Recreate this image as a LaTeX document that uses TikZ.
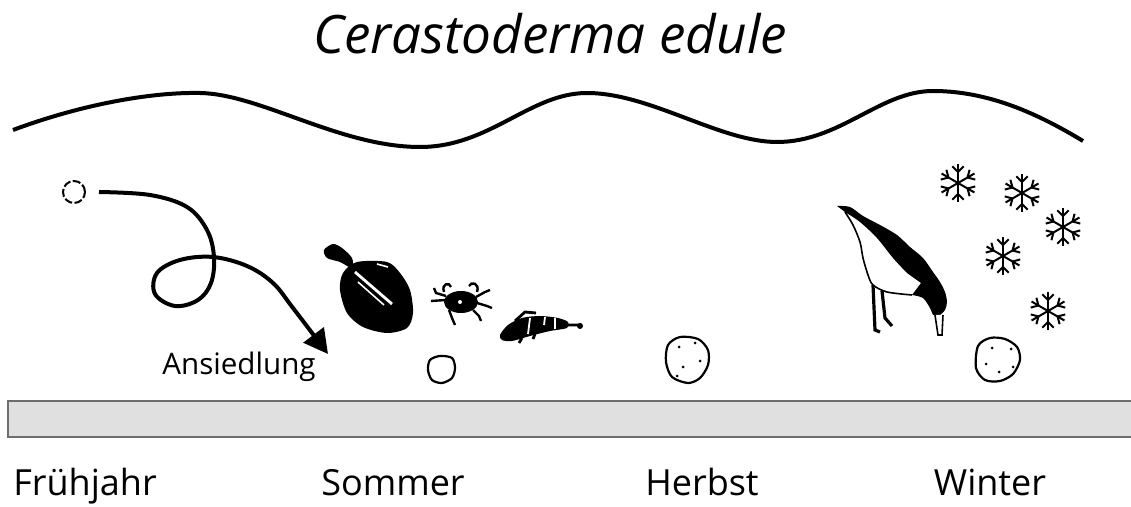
\documentclass[tikz,border=0pt]{standalone}
\usepackage{fontspec}
\setmainfont{Open Sans}
\usetikzlibrary{calc,arrows.meta}
\tikzset {>=Stealth}
\tikzset{
  season/.style={font=\fontsize{18}{20}\selectfont,anchor=base},
  shell/.style={line width=1.1pt,fill=white},
  spat/.style={circle,draw,line width=1pt,dash pattern=on 4pt off 1.2pt,minimum size=11pt,inner sep=0pt},
  drift/.style={line width=2pt,-{Triangle[length=12pt,width=12.5pt]}},
  flake/.pic={
    \foreach \a in {30,90,...,330} {
      \draw (0,0) -- (\a:19);
      \draw (\a:11) -- ++(\a+45:8);
      \draw (\a:11) -- ++(\a-45:8);
    }
  }
}

\begin{document}
\begin{tikzpicture}[x=0.5pt,y=-0.5pt]
\useasboundingbox (0,0) rectangle (1131,507);

\node[font=\fontsize{26.5}{30}\selectfont\itshape,anchor=base] (title) at (550,54) {Cerastoderma edule};

% water surface
\draw[line width=2pt] (13,130) .. controls (80,105) and (150,92) .. (200,93)
  .. controls (260,94) and (340,147) .. (420,147)
  .. controls (490,147) and (530,93) .. (587,93)
  .. controls (650,93) and (720,142) .. (777,142)
  .. controls (840,142) and (880,91) .. (933,91)
  .. controls (990,91) and (1040,115) .. (1083,141);

% sediment
\draw[line width=1pt,draw=black!57,fill=black!12] (8,401) rectangle (1140,437);

\foreach \x/\name/\s in {85/spring/Frühjahr,393/summer/Sommer,702/autumn/Herbst,990/winter/Winter} {
  \node[season] (\name) at (\x,496) {\s};
}

% larva drifting down
\node[spat] (larva) at (74,192) {};
\coordinate (drift) at ($(larva.east)+(13,0)$);
\coordinate (settle) at (328,354);
\draw[drift] plot[smooth,tension=0.6] coordinates {(drift) (150,195) (187,207) (207,230)
  (214,257) (211,283) (198,300) (175,306) (155,294) (157,273) (180,260) (213,257)
  (247,266) (273,283) (293,308) (settle)};
\node[font=\fontsize{14.8}{16}\selectfont,anchor=base] (settling) at (239,375) {Ansiedlung};

% cockles growing
\draw[shell] plot[smooth cycle] coordinates {(430,360) (440,356) (452,358) (455,368) (452,378) (442,383) (432,380) (428,370)};
\draw[shell] plot[smooth cycle] coordinates {(668,345) (680,337) (698,339) (708,350) (708,365) (700,378) (688,383) (672,377) (666,362)};
\draw[shell] plot[smooth cycle] coordinates {(978,346) (990,338) (1005,339) (1017,347) (1020,360) (1013,374) (1000,381) (985,380) (976,368)};
\foreach \p in {(679,347),(695,343),(700,361),(683,367),(677,376),(992,348),(1011,349),(986,364),(999,372),(1013,367)}
  \fill \p circle[radius=1.5];

% plaice
\fill plot[smooth cycle] coordinates {(357,262) (387,262) (400,273) (410,290) (413,313)
  (407,328) (387,333) (363,327) (347,313) (340,290) (343,273)};
\fill plot[smooth cycle] coordinates {(352,268) (340,262) (327,258) (324,250) (333,244) (342,248) (352,258)};
\draw[white,line width=1.4pt] (355,272) -- (392,304);
\draw[white,line width=0.8pt] (358,282) -- (384,305);
\draw[white,line width=0.8pt] (377,264) -- (388,267);

% shore crab
\fill (461,302) ellipse[x radius=17,y radius=11];
\fill[white] (460,302) circle[radius=2];
\draw[line width=1.2pt] (446,300) -- (431,301)
  (446,296) -- (436,293) -- (434,288)
  (449,310) -- (452,318) -- (455,325)
  (476,297) -- (485,292) -- (490,290)
  (477,303) -- (487,306) -- (492,308)
  (473,310) -- (479,316) -- (481,321);
\draw[line width=1.2pt] (444,292) .. controls (441,283) and (450,282) .. (451,287);
\draw[line width=1.2pt] (477,292) .. controls (480,283) and (471,281) .. (469,286);

% shrimp
\fill plot[smooth cycle] coordinates {(500,335) (508,325) (522,318) (540,316) (558,318)
  (568,322) (567,328) (550,331) (530,336) (512,341) (502,340)};
\draw[white,line width=0.9pt] (530,318) -- (528,334) (545,317) -- (544,325) (555,318) -- (555,329);
\draw[line width=1.4pt] (566,325) -- (582,325) (515,321) -- (525,312) -- (536,313)
  (522,338) -- (519,343) (535,334) -- (533,339);
\fill (580,326) circle[radius=3];

% oystercatcher
\fill plot[smooth] coordinates {(837,206) (850,207) (863,216) (880,225) (897,235) (910,247)
  (923,258) (933,272) (940,282) (945,292) (947,302) (945,310) (940,315)} -- (933,315)
  -- plot[smooth] coordinates {(930,308) (923,298) (912,295)} -- (921,283)
  -- plot[smooth] coordinates {(907,273) (893,258) (877,238) (860,222) (845,212)} -- cycle;
\draw[line width=0.8pt] plot[smooth] coordinates {(845,212) (853,225) (860,242) (863,258) (868,275) (873,285) (887,292) (912,295)};
\draw[line width=0.8pt,fill=white] (935,315) -- (938,335) -- (942,335) -- (943,315);
\draw[line width=1.6pt] (873,285) -- (875,330) -- (880,332) (882,291) -- (885,318) -- (892,326);

% snow
\foreach \x/\y in {958/183,1022/193,1063/227,1003/256,1048/311}
  \pic[line width=1pt] at (\x,\y) {flake};

\end{tikzpicture}
\end{document}
